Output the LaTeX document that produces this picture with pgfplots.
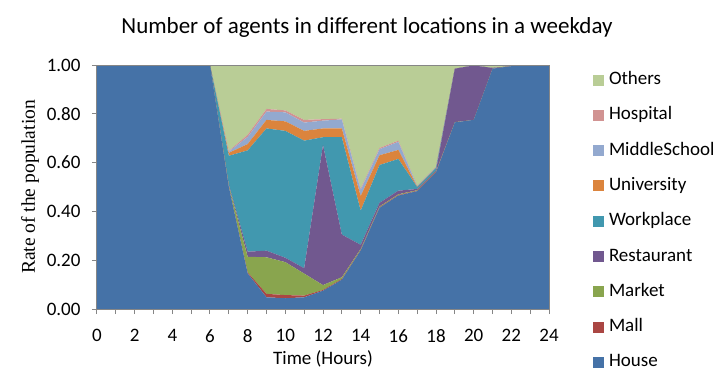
\documentclass[border=0pt]{standalone}
\usepackage{fontspec}
\setmainfont{Carlito}
\newfontfamily\timesf{Liberation Serif}
\usepackage{pgfplots}
\usepackage{pgfplotstable}
\pgfplotsset{compat=1.18}
\definecolor{cHouse}{HTML}{4572A7}
\definecolor{cMall}{HTML}{AA4643}
\definecolor{cMarket}{HTML}{89A54E}
\definecolor{cRest}{HTML}{71588F}
\definecolor{cWork}{HTML}{4198AF}
\definecolor{cUniv}{HTML}{DB843D}
\definecolor{cMS}{HTML}{93A9CF}
\definecolor{cHosp}{HTML}{D19392}
\definecolor{cOth}{HTML}{B9CD96}
\definecolor{cAxis}{HTML}{868686}
\pgfplotstableread{
h house mall market rest work univ ms hosp others
0 1 0 0 0 0 0 0 0 0
1 1 0 0 0 0 0 0 0 0
2 1 0 0 0 0 0 0 0 0
3 1 0 0 0 0 0 0 0 0
4 1 0 0 0 0 0 0 0 0
5 1 0 0 0 0 0 0 0 0
6 1 0 0 0 0 0 0 0 0
7 0.500 0.000 0.005 0.005 0.118 0.012 0.005 0.003 0.352
8 0.146 0.004 0.064 0.021 0.415 0.026 0.029 0.009 0.286
9 0.048 0.014 0.150 0.027 0.501 0.035 0.034 0.011 0.180
10 0.044 0.013 0.135 0.018 0.520 0.039 0.037 0.008 0.186
11 0.048 0.007 0.090 0.022 0.523 0.040 0.034 0.011 0.225
12 0.075 0.003 0.020 0.574 0.032 0.036 0.032 0.006 0.222
13 0.120 0.003 0.007 0.175 0.399 0.036 0.037 0.003 0.220
14 0.240 0.002 0.004 0.017 0.140 0.060 0.025 0.005 0.507
15 0.415 0.002 0.003 0.015 0.155 0.040 0.025 0.005 0.340
16 0.465 0.002 0.003 0.015 0.130 0.037 0.033 0.005 0.310
17 0.483 0.002 0.002 0.005 0.008 0.002 0.002 0.001 0.495
18 0.560 0.002 0.002 0.004 0.010 0.002 0.002 0.001 0.417
19 0.765 0.000 0.001 0.219 0.000 0.000 0.000 0.000 0.015
20 0.775 0 0 0.223 0 0 0 0 0.002
21 0.985 0 0 0.003 0 0 0 0 0.012
22 0.995 0 0 0 0 0 0 0 0.005
23 1 0 0 0 0 0 0 0 0
24 1 0 0 0 0 0 0 0 0
}\data
\begin{document}
\begin{tikzpicture}[x=1pt,y=1pt]
\path[use as bounding box] (-97,-77) rectangle (624,309);
\begin{axis}[
  at={(0,0)}, anchor=south west,
  scale only axis, width=452pt, height=244pt,
  xmin=0, xmax=24, ymin=0, ymax=1,
  stack plots=y,
  xtick={0,2,...,24}, minor xtick={1,3,...,23},
  ytick={0,0.2,0.4,0.6,0.8,1},
  tick align=outside, tick pos=left,
  major tick length=5pt, minor tick length=5pt,
  every tick/.style={draw=cAxis, line width=1pt},
  axis line style={draw=cAxis, line width=1pt},
  /pgf/number format/assume math mode=true,
  yticklabel style={xshift=-8pt, /pgf/number format/.cd, fixed, fixed zerofill, precision=2},
  xticklabel style={yshift=-12pt},
  ticklabel style={font=\fontsize{19}{21}\selectfont},
  xlabel={Time (Hours)},
  xlabel style={font=\fontsize{19}{21}\selectfont, yshift=-1pt},
  ylabel={\timesf Rate of the population},
  ylabel style={font=\fontsize{19.5}{21}\selectfont},
  ylabel shift=1pt,
  axis on top,
  reverse legend,
  legend style={at={(1,1)}, anchor=north west, xshift=44pt, yshift=-6.5pt,
    draw=none, fill=none, inner sep=0pt, outer sep=0pt,
    font=\fontsize{19}{21}\selectfont, row sep=18.3pt, column sep=5pt,
    nodes={inner sep=0pt, text height=13pt, text depth=4pt}},
  legend cell align=left,
  legend image code/.code={\fill[#1] (0pt,-5.5pt) rectangle (11pt,5.5pt);},
]
\addplot[fill=cHouse, draw=none] table[x=h, y=house] {\data} \closedcycle;
\addplot[fill=cMall, draw=none] table[x=h, y=mall] {\data} \closedcycle;
\addplot[fill=cMarket, draw=none] table[x=h, y=market] {\data} \closedcycle;
\addplot[fill=cRest, draw=none] table[x=h, y=rest] {\data} \closedcycle;
\addplot[fill=cWork, draw=none] table[x=h, y=work] {\data} \closedcycle;
\addplot[fill=cUniv, draw=none] table[x=h, y=univ] {\data} \closedcycle;
\addplot[fill=cMS, draw=none] table[x=h, y=ms] {\data} \closedcycle;
\addplot[fill=cHosp, draw=none] table[x=h, y=hosp] {\data} \closedcycle;
\addplot[fill=cOth, draw=none] table[x=h, y=others] {\data} \closedcycle;
\legend{House,Mall,Market,Restaurant,Workplace,University,MiddleSchool,Hospital,Others}
\end{axis}
\node[anchor=base, font=\fontsize{23}{25}\selectfont] at (270,275) {Number of agents in different locations in a weekday};
\end{tikzpicture}
\end{document}
